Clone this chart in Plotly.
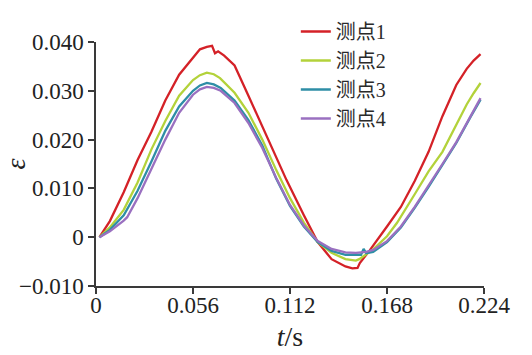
import plotly.graph_objects as go

t1 = [0.002, 0.008, 0.016, 0.024, 0.032, 0.040, 0.048, 0.056, 0.060, 0.064, 0.067, 0.0687, 0.0705,
      0.074, 0.080, 0.088, 0.096, 0.104, 0.110, 0.120, 0.128, 0.136, 0.144, 0.148, 0.151, 0.1523,
      0.158, 0.168, 0.176, 0.184, 0.192, 0.200, 0.208, 0.214, 0.218, 0.222]
p1 = [0.0, 0.0033, 0.0092, 0.0158, 0.0216, 0.0280, 0.0333, 0.0368, 0.0385, 0.0390, 0.0392, 0.0377, 0.0381,
      0.0372, 0.0352, 0.0290, 0.0228, 0.0163, 0.0117, 0.0045, -0.0010, -0.0045, -0.0060, -0.0064, -0.0063, -0.0053,
      -0.0027, 0.0022, 0.0062, 0.0115, 0.0175, 0.0248, 0.0312, 0.0345, 0.0362, 0.0375]

t2 = [0.002, 0.008, 0.016, 0.024, 0.032, 0.040, 0.048, 0.056, 0.060, 0.064, 0.068, 0.0716, 0.080,
      0.088, 0.096, 0.104, 0.112, 0.120, 0.128, 0.136, 0.144, 0.150, 0.152, 0.156, 0.160, 0.168,
      0.1737, 0.184, 0.192, 0.200, 0.208, 0.214, 0.218, 0.222]
p2 = [0.0, 0.0020, 0.0056, 0.0112, 0.0180, 0.0238, 0.0290, 0.0322, 0.0332, 0.0337, 0.0334, 0.0326, 0.0296,
      0.0255, 0.0200, 0.0138, 0.0080, 0.0030, -0.0010, -0.0032, -0.0045, -0.0048, -0.0045, -0.0035, -0.0025, 0.0002,
      0.0029, 0.0088, 0.0135, 0.0175, 0.0232, 0.0272, 0.0295, 0.0316]

t3 = [0.002, 0.008, 0.016, 0.024, 0.032, 0.040, 0.048, 0.056, 0.060, 0.064, 0.068, 0.072, 0.080,
      0.088, 0.096, 0.104, 0.112, 0.120, 0.128, 0.136, 0.144, 0.150, 0.153, 0.1545, 0.156, 0.160,
      0.168, 0.176, 0.184, 0.192, 0.200, 0.208, 0.216, 0.222]
p3 = [0.0, 0.0015, 0.0045, 0.0095, 0.0155, 0.0218, 0.0268, 0.0300, 0.0311, 0.0316, 0.0313, 0.0306, 0.0280,
      0.0240, 0.0188, 0.0120, 0.0064, 0.0022, -0.0010, -0.0028, -0.0036, -0.0037, -0.0036, -0.0024, -0.0033, -0.0030,
      -0.0010, 0.0020, 0.0060, 0.0103, 0.0148, 0.0193, 0.0245, 0.0282]

t4 = [0.002, 0.008, 0.016, 0.018, 0.024, 0.032, 0.040, 0.048, 0.056, 0.060, 0.064, 0.068, 0.072, 0.080,
      0.088, 0.096, 0.104, 0.112, 0.120, 0.128, 0.136, 0.144, 0.150, 0.156, 0.160, 0.168,
      0.176, 0.184, 0.192, 0.200, 0.208, 0.216, 0.222]
p4 = [0.0, 0.0012, 0.0034, 0.0041, 0.0080, 0.0140, 0.0200, 0.0255, 0.0292, 0.0303, 0.0308, 0.0306, 0.0300, 0.0275,
      0.0234, 0.0183, 0.0122, 0.0066, 0.0024, -0.0008, -0.0024, -0.0031, -0.0032, -0.0030, -0.0026, -0.0008,
      0.0022, 0.0062, 0.0105, 0.0150, 0.0195, 0.0248, 0.0285]

names = ["测点1", "测点2", "测点3", "测点4"]
colors = ["#d42127", "#b3d23a", "#2e8ea6", "#9a70c0"]

x_ticks = [0, 0.056, 0.112, 0.168, 0.224]
x_ticktext = ["0", "0.056", "0.112", "0.168", "0.224"]
y_ticks = [-0.010, 0.0, 0.010, 0.020, 0.030, 0.040]
y_ticktext = ["\u22120.010", "0", "0.010", "0.020", "0.030", "0.040"]

fig = go.Figure()
for tt, pp, nm, cl in zip([t1, t2, t3, t4], [p1, p2, p3, p4], names, colors):
    fig.add_trace(go.Scatter(x=tt, y=pp, mode="lines", name=nm,
                             line=dict(color=cl, width=2.3)))

font_family = "Liberation Serif, Times New Roman, serif"
axis_color = "#3a3a3a"
fig.update_layout(
    width=532, height=355,
    margin=dict(l=96, r=48, t=42, b=69, autoexpand=False),
    paper_bgcolor="white", plot_bgcolor="white",
    font=dict(family=font_family, size=23, color="#222"),
    showlegend=True,
    legend=dict(x=0.515, y=1.123, xanchor="left", yanchor="top",
                bgcolor="rgba(0,0,0,0)", tracegroupgap=0,
                font=dict(family="Liberation Serif, Noto Sans CJK SC, serif", size=20, color="#2a2a2a"),
                itemwidth=30),
    xaxis=dict(range=[0, 0.224], tickvals=x_ticks, ticktext=x_ticktext,
               showline=True, linecolor=axis_color, linewidth=1.5,
               ticks="outside", ticklen=6, tickcolor=axis_color, tickwidth=1.5,
               ticklabelstandoff=-8,
               showgrid=False, zeroline=False, automargin=False,
               title=dict(text="<i>t</i>/s", standoff=9)),
    yaxis=dict(range=[-0.010, 0.040], tickvals=y_ticks, ticktext=y_ticktext,
               showline=True, linecolor=axis_color, linewidth=1.5,
               ticks="outside", ticklen=6, tickcolor=axis_color, tickwidth=1.5,
               showgrid=False, zeroline=False, automargin=False,
               title=dict(text="<i>ε</i>", standoff=16)),
)

fig.write_html("out.html", config={"displayModeBar": False},
               post_script="document.body.style.margin='0';document.body.style.overflow='hidden';")
